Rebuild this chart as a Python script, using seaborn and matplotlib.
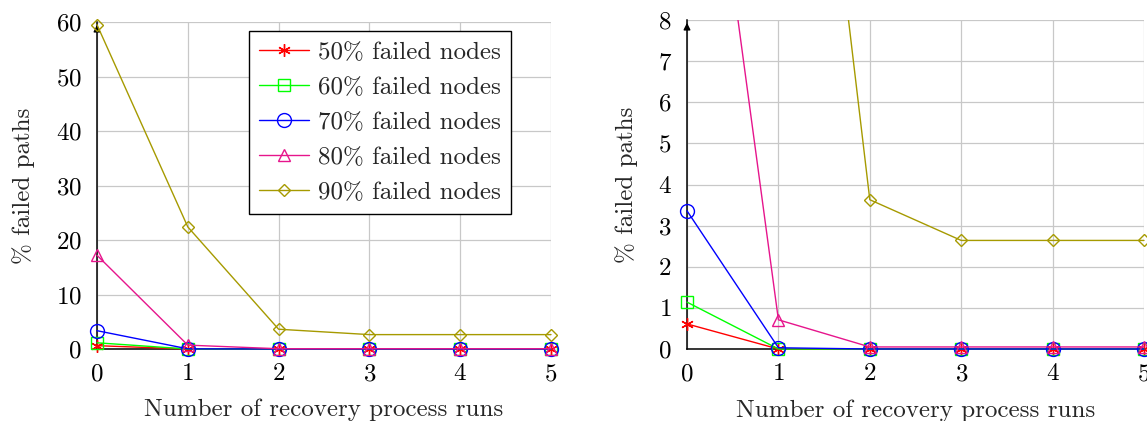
import numpy as np
import pandas as pd
import matplotlib
matplotlib.use("Agg")
import matplotlib.pyplot as plt
import seaborn as sns
from matplotlib.transforms import Bbox, TransformedBbox

runs = [0, 1, 2, 3, 4, 5]
series_names = ["50% failed nodes", "60% failed nodes", "70% failed nodes",
                "80% failed nodes", "90% failed nodes"]
fail50 = [0.61, 0.0, 0.0, 0.0, 0.0, 0.0]
fail60 = [1.14, 0.0, 0.0, 0.0, 0.0, 0.0]
fail70 = [3.36, 0.03, 0.0, 0.0, 0.0, 0.0]
fail80 = [17.2, 0.71, 0.05, 0.05, 0.05, 0.05]
fail90 = [59.5, 22.4, 3.63, 2.64, 2.64, 2.64]

colors = ["#ff0000", "#00ff00", "#0000ff", "#e6158c", "#a69a00"]
seaborn_markers = ["X", "s", "o", "^", "D"]
final_markers = [(6, 2, 0), "s", "o", "^", "D"]
msizes = [9, 9, 10, 9, 6.5]

sns.set_theme(style="white")
plt.rcParams["font.family"] = ["cmr10", "DejaVu Serif"]
plt.rcParams["mathtext.fontset"] = "cm"
plt.rcParams["axes.unicode_minus"] = False
plt.rcParams["axes.formatter.use_mathtext"] = True

rows = []
for name, vals in zip(series_names, [fail50, fail60, fail70, fail80, fail90]):
    for r, v in zip(runs, vals):
        rows.append({"run": r, "pct": v, "series": name})
df = pd.DataFrame(rows)

W, H = 1147, 421
fig = plt.figure(figsize=(W / 100, H / 100), dpi=100)
ax1 = fig.add_axes([97 / W, 1 - 349 / H, 454 / W, 327 / H])
ax2 = fig.add_axes([687 / W, 1 - 349 / H, 457 / W, 329 / H])

FS = 18
for ax, ymax, yticks, ytop_clip in [(ax1, 60, range(0, 61, 10), 1.1),
                                     (ax2, 8, range(0, 9), 1.0)]:
    sns.lineplot(data=df, x="run", y="pct", hue="series", style="series",
                 hue_order=series_names, style_order=series_names,
                 palette=dict(zip(series_names, colors)),
                 markers=dict(zip(series_names, seaborn_markers)), dashes=False,
                 ax=ax, legend=False, linewidth=1.0, zorder=3)
    for line, c, ms, mk in zip(ax.lines, colors, msizes, final_markers):
        line.set_marker(mk)
        line.set_markerfacecolor("none")
        line.set_markeredgecolor(c)
        line.set_markeredgewidth(1.0)
        line.set_markersize(ms)
        line.set_clip_box(TransformedBbox(Bbox([[-0.1, -0.1], [1.1, ytop_clip]]),
                                          ax.transAxes))
    ax.set_xlim(0, 5)
    ax.set_ylim(0, ymax)
    ax.set_xticks(runs)
    ax.set_yticks(list(yticks))
    ax.grid(True, color="#c8c8c8", linewidth=0.9)
    ax.set_axisbelow(True)
    for s in ["top", "right"]:
        ax.spines[s].set_visible(False)
    for s in ["left", "bottom"]:
        ax.spines[s].set_color("black")
        ax.spines[s].set_linewidth(1.1)
        ax.spines[s].set_zorder(2.5)
    ax.tick_params(axis="both", direction="inout", length=6, width=0.9,
                   color="#9a9a9a", labelsize=FS, labelcolor="black")
    ax.tick_params(axis="x", pad=7)
    ax.tick_params(axis="y", pad=8)
    ax.set_xlabel("Number of recovery process runs", fontsize=FS)
    ax.set_ylabel("% failed paths", fontsize=FS)
    ax.xaxis.label.set_va("center")
    ax.yaxis.label.set_va("center")
    ax.xaxis.set_label_coords(0.5, -61 / 327)
    ax.annotate("", xy=(0, 1.0), xytext=(0, 0.97), xycoords="axes fraction",
                arrowprops=dict(arrowstyle="-|>", color="black", lw=1.0,
                                mutation_scale=10), zorder=2.6)

ax1.yaxis.set_label_coords(-73 / 454, 0.5)
ax2.yaxis.set_label_coords(-60 / 457, 0.5)

handles = ax1.lines[:5]
leg = ax1.legend(handles, series_names, loc="upper right",
                 bbox_to_anchor=(0.912, 0.972), borderaxespad=0,
                 fontsize=FS, frameon=True, fancybox=False, framealpha=1,
                 edgecolor="black", handlelength=2.0, handletextpad=0.35,
                 labelspacing=0.5, borderpad=0.4)
leg.get_frame().set_linewidth(1.0)
leg.set_zorder(5)

fig.savefig("out.png", dpi=100)
